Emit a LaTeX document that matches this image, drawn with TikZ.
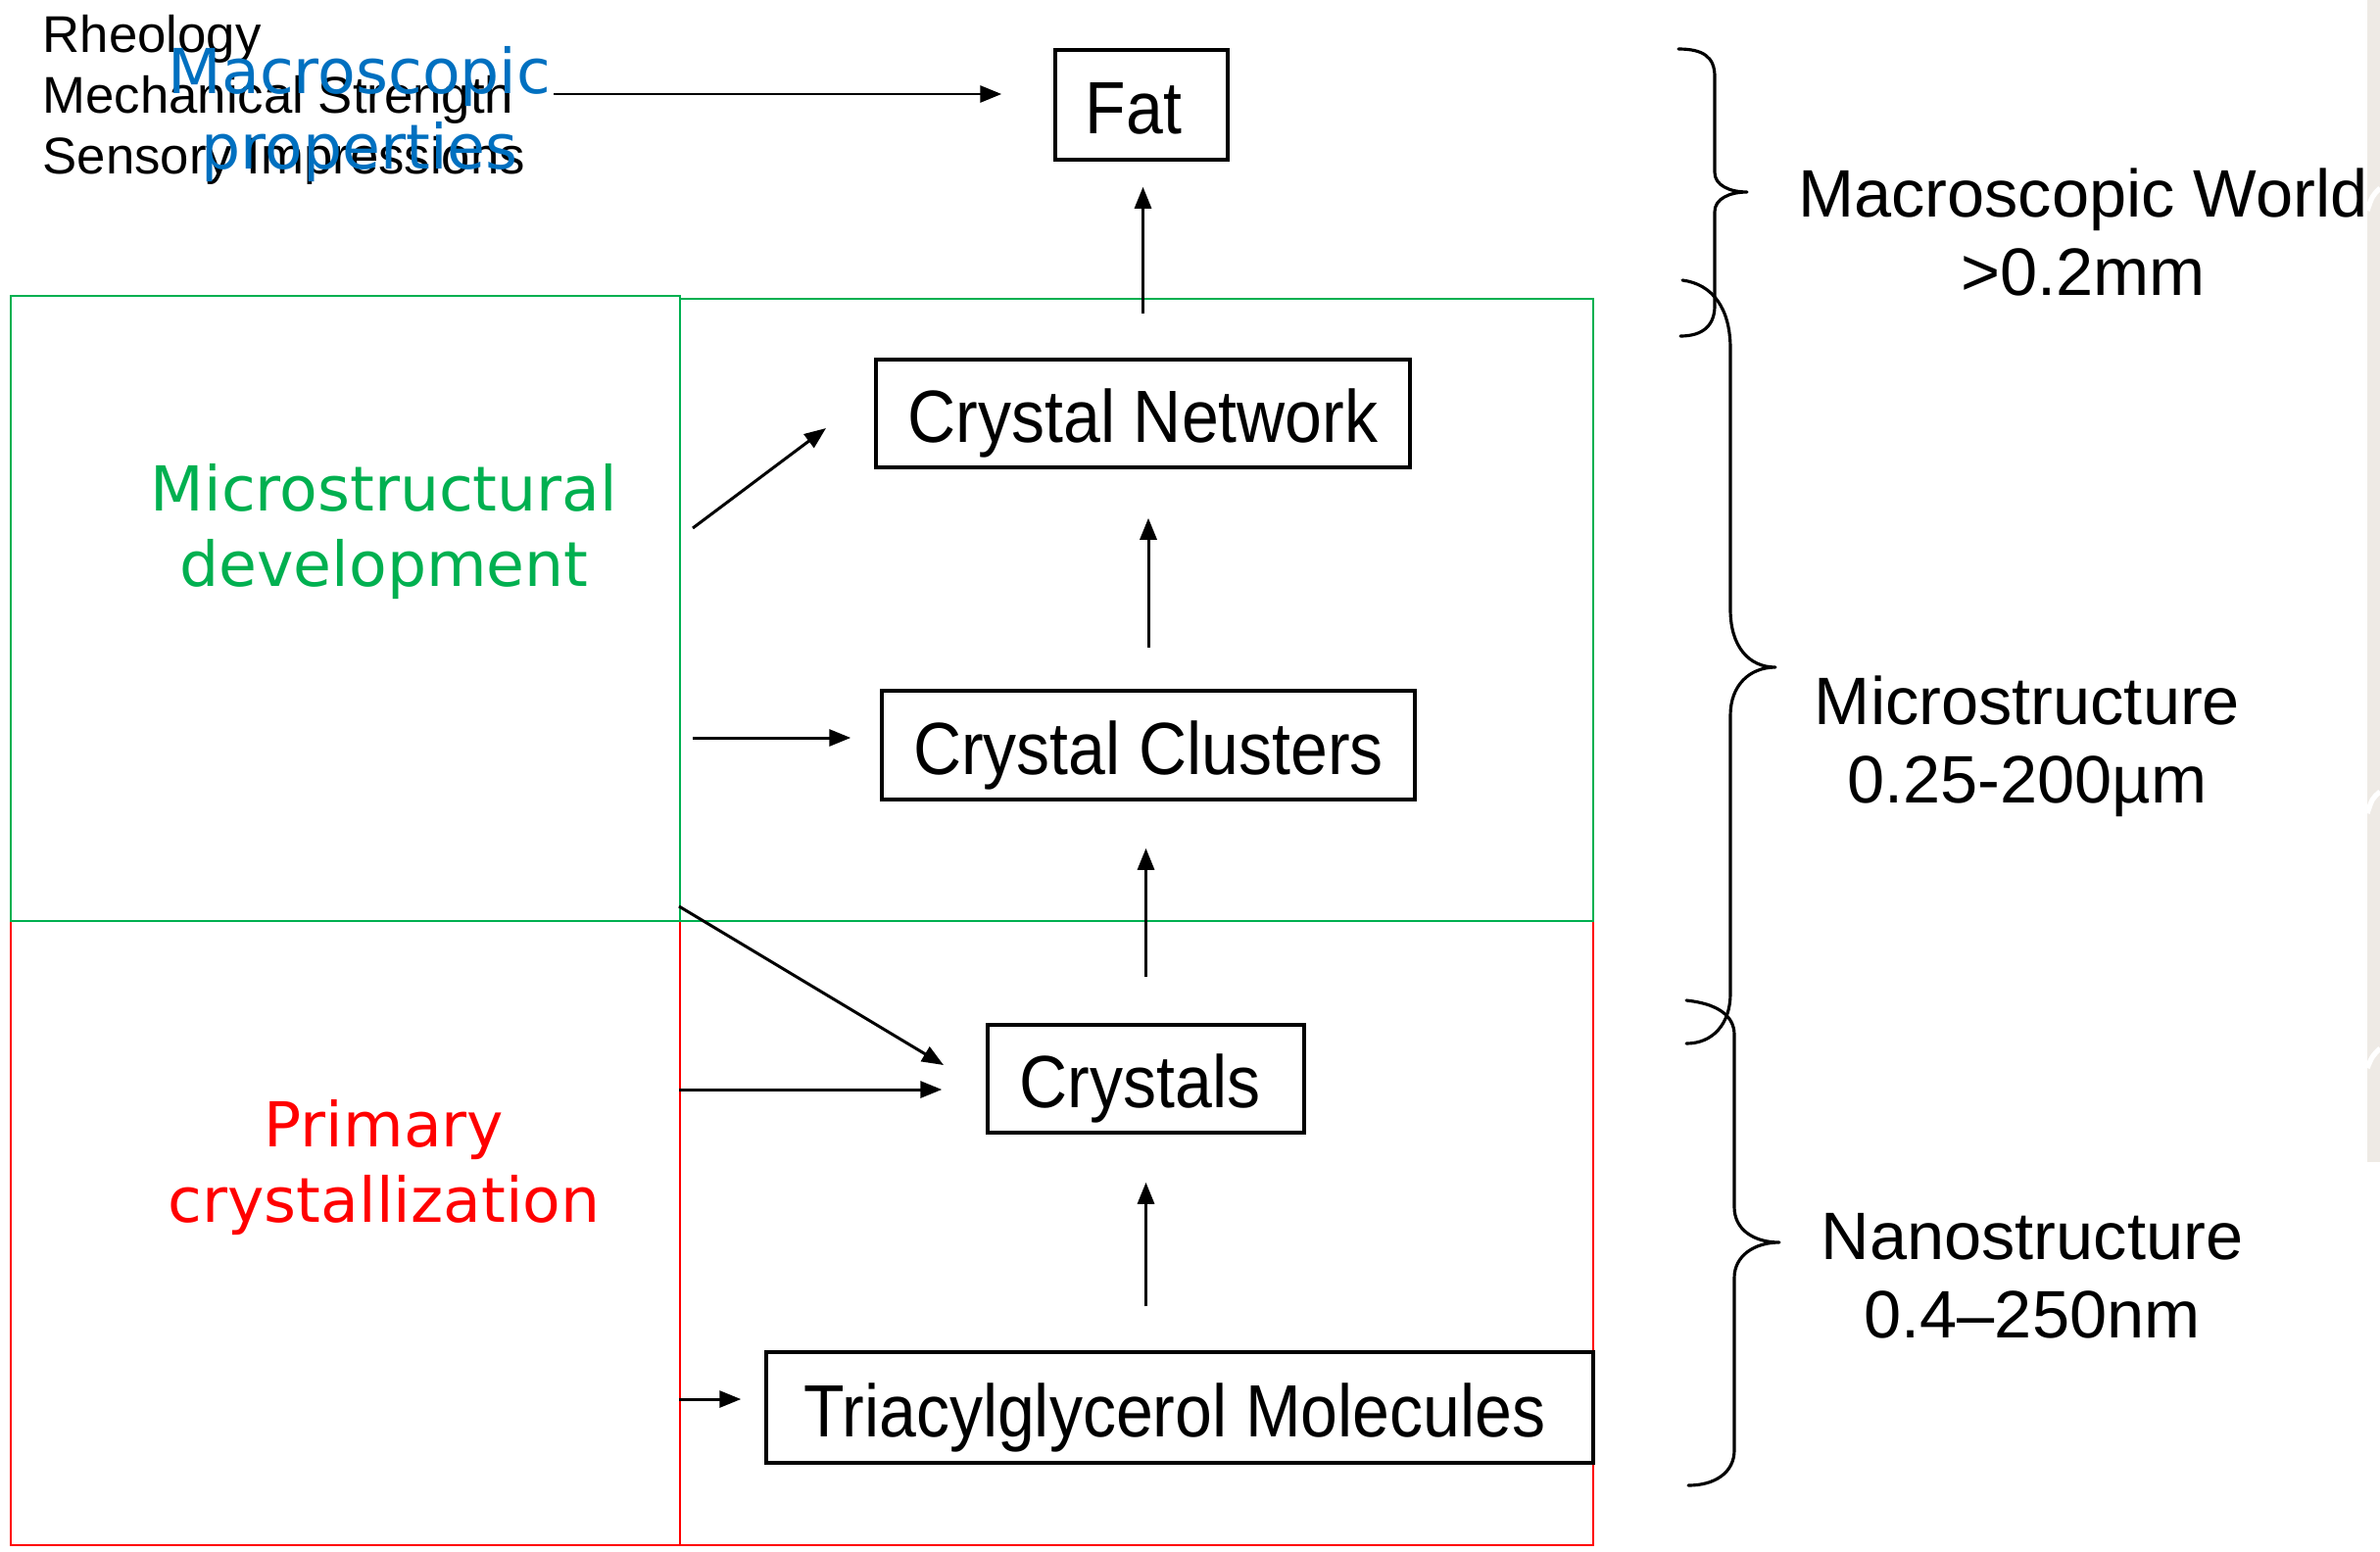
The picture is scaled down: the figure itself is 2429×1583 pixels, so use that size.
\documentclass[tikz,border=0pt]{standalone}
\usepackage{fontspec}
\setmainfont{Liberation Sans}
\newfontfamily\boxfont[FakeStretch=0.9]{Liberation Sans}
\newfontfamily\labelfont{DejaVu Sans}
\usetikzlibrary{arrows.meta}
\definecolor{zonegreen}{HTML}{00B050}
\definecolor{zonered}{HTML}{FF0000}
\definecolor{macroblue}{HTML}{0070C0}
\definecolor{stripgrey}{HTML}{EEEAE5}
\tikzset{
  stage/.style={draw=black, line width=1pt, inner sep=0pt,
    text height=16.9pt, text depth=0pt,
    font=\boxfont\fontsize{21.5pt}{25pt}\selectfont},
  flow/.style={-{Triangle[length=2.2mm,width=1.7mm]}, line width=0.85pt},
  zone/.style={line width=0.7pt},
  zonelabel/.style={font=\labelfont\fontsize{18pt}{21.9pt}\selectfont, align=center, inner sep=0pt},
  sizeband/.style={font=\fontsize{19.5pt}{22.8pt}\selectfont, align=center, inner sep=0pt},
  brace/.style={line width=0.9pt, line join=round, line cap=round}
}
\begin{document}
\begin{tikzpicture}[x=0.1mm, y=-0.1mm]
  % canvas
  \fill[white] (0,0) rectangle (2429,1583);
  \useasboundingbox (0,0) rectangle (2429,1583);

  % paper edge on the right
  \fill[stripgrey] (2416,0) rectangle (2429,1186);
  \draw[white, line width=1.5pt] (2416,215) .. controls (2421,200) .. (2429,192);
  \draw[white, line width=1.5pt] (2416,830) .. controls (2421,815) .. (2429,808);
  \draw[white, line width=1.5pt] (2416,1090) .. controls (2421,1078) .. (2429,1070);

  % coloured zones
  \draw[zone, draw=zonered] (11,940) rectangle (694,1577);
  \draw[zone, draw=zonered] (694,940) rectangle (1626,1577);
  \draw[zone, draw=zonegreen] (11,302) rectangle (694,940);
  \draw[zone, draw=zonegreen] (694,305) rectangle (1626,940);

  % stages
  \node[stage, minimum width=17.6mm, minimum height=11.2mm] (fat) at (1165,107) {\kern-0.8mm Fat\kern0.8mm};
  \node[stage, minimum width=54.5mm, minimum height=11mm] (network) at (1166.5,422) {Crystal Network};
  \node[stage, minimum width=54.4mm, minimum height=11.1mm] (clusters) at (1172,760.5) {Crystal Clusters};
  \node[stage, minimum width=32.3mm, minimum height=11mm] (crystals) at (1169.5,1101) {\kern-0.6mm Crystals\kern0.6mm};
  \node[stage, minimum width=84.4mm, minimum height=11.3mm] (tag) at (1204,1436.5) {\kern-0.5mm Triacylglycerol Molecules\kern0.5mm};

  % properties list
  \node[anchor=west, inner sep=0pt, align=left, font=\fontsize{15pt}{17.6pt}\selectfont]
    (props) at (43,102) {Rheology\\Mechanical Strength\\Sensory Impressions};

  % zone labels
  \node[zonelabel, text=macroblue] (macro) at (367,117) {Macroscopic\\properties};
  \node[zonelabel, text=zonegreen] (develop) at (392,543) {Microstructural\\development};
  \node[zonelabel, text=zonered] (primary) at (392,1192) {Primary\\crystallization};

  % length scales
  \node[sizeband] (world) at (2126,237) {Macroscopic World\\>0.2mm};
  \node[sizeband] (micro) at (2069,762) {Microstructure\\0.25-200µm};
  \node[sizeband] (nano) at (2074,1302) {Nanostructure\\0.4–250nm};

  % upward flow between stages
  \draw[flow, shorten <=4.5mm, shorten >=2.6mm] (network.north) -- (network.north |- fat.south);
  \draw[flow, shorten <=4.2mm, shorten >=5mm] (clusters.north) -- (clusters.north |- network.south);
  \draw[flow, shorten <=4.7mm, shorten >=4.8mm] (crystals.north) -- (crystals.north |- clusters.south);
  \draw[flow, shorten <=4.5mm, shorten >=4.9mm] (crystals.south |- tag.north) -- (crystals.south);

  % arrows coming in from the left
  \coordinate (propsout) at (565,96);
  \coordinate (devA) at (707,539);
  \coordinate (devAend) at (843,437);
  \coordinate (devB) at (707,753);
  \coordinate (primA) at (693,925);
  \coordinate (primAend) at (963,1087);
  \coordinate (primB) at (693,1112);
  \coordinate (primC) at (693,1428);

  \draw[flow, shorten >=5.3mm] (propsout) -- (fat.west |- propsout);
  \draw[flow] (devA) -- (devAend);
  \draw[flow, shorten >=3mm] (devB) -- (clusters.west |- devB);
  \draw[flow] (primA) -- (primAend);
  \draw[flow, shorten >=4.5mm] (primB) -- (crystals.west |- primB);
  \draw[flow, shorten >=2.4mm] (primC) -- (tag.west |- primC);

  % braces grouping the scales
  \draw[brace] (1713,50) .. controls (1738,50) and (1750,58) .. (1750,78)
    -- (1750,176) .. controls (1750,189) and (1765,196) .. (1783,196)
    .. controls (1765,196) and (1750,203) .. (1750,216)
    -- (1750,312) .. controls (1750,332) and (1738,343) .. (1715,343);
  \draw[brace] (1717,286) .. controls (1748,290) and (1766,315) .. (1766,356)
    -- (1766,622) .. controls (1766,660) and (1785,681) .. (1812,681)
    .. controls (1785,681) and (1766,700) .. (1766,730)
    -- (1766,1014) .. controls (1766,1045) and (1748,1065) .. (1721,1065);
  \draw[brace] (1721,1021) .. controls (1750,1024) and (1770,1035) .. (1770,1056)
    -- (1770,1232) .. controls (1770,1255) and (1790,1268) .. (1816,1268)
    .. controls (1790,1268) and (1770,1282) .. (1770,1304)
    -- (1770,1480) .. controls (1770,1503) and (1750,1516) .. (1723,1516);
\end{tikzpicture}
\end{document}
